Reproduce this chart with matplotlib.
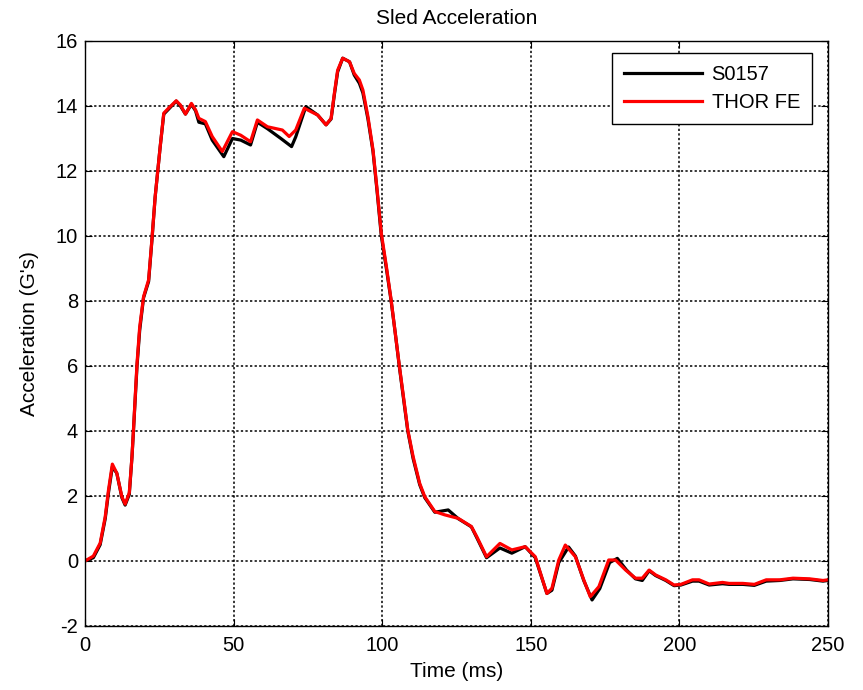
import matplotlib
matplotlib.use("Agg")
import matplotlib.pyplot as plt

plt.rcParams['font.family'] = ['Liberation Sans', 'DejaVu Sans']
plt.rcParams['axes.unicode_minus'] = False

# S0157 test (black)
t_test = [0, 2.8, 5.1, 6.8, 7.9, 9.2, 10.7, 12.4, 13.5, 14.9, 15.8, 16.3, 16.9, 17.5, 18.4,
          19.7, 21.4, 22.5, 23.6, 25.3, 26.5, 28.1, 30.7, 32.1, 33.8, 35.8, 37.2, 38.3, 40.5,
          42.8, 46.7, 49.6, 52.4, 55.7, 58.0, 61.4, 65.9, 69.5, 70.9, 74.3, 78.3, 81.1, 82.8,
          83.9, 85.0, 86.7, 89.0, 90.6, 92.3, 93.5, 95.2, 96.9, 98.3, 99.7, 101.4, 103.0,
          104.4, 105.8, 107.3, 108.6, 110.4, 112.6, 114.3, 117.7, 122.2, 125.6, 130.0, 131.8,
          135.1, 139.6, 143.6, 148.1, 151.5, 155.4, 157.1, 159.4, 162.7, 165.0, 167.8, 170.6,
          173.2, 176.5, 179.1, 182.2, 185.2, 187.5, 189.8, 192.0, 195.4, 198.2, 200.5, 204.4,
          206.6, 210.0, 214.5, 216.7, 221.3, 225.2, 229.2, 233.8, 238.2, 243.8, 248.3, 250]
a_test = [0, 0.1, 0.5, 1.3, 2.1, 2.9, 2.7, 1.95, 1.72, 2.05, 3.2, 4.0, 5.0, 6.0, 7.1,
          8.1, 8.6, 9.85, 11.2, 12.75, 13.75, 13.9, 14.15, 14.0, 13.75, 14.05, 13.85, 13.5, 13.45,
          12.95, 12.44, 13.0, 12.95, 12.8, 13.5, 13.3, 13.0, 12.75, 13.05, 13.98, 13.72, 13.42, 13.6,
          14.35, 15.05, 15.47, 15.36, 14.95, 14.7, 14.4, 13.6, 12.6, 11.35, 10.0, 9.0, 8.0,
          7.0, 5.95, 4.9, 4.0, 3.15, 2.35, 1.95, 1.5, 1.57, 1.3, 1.05, 0.72,
          0.1, 0.4, 0.24, 0.44, 0.1, -1.0, -0.9, -0.05, 0.43, 0.15, -0.6, -1.2,
          -0.85, -0.05, 0.08, -0.28, -0.55, -0.6, -0.3, -0.45, -0.6, -0.76, -0.74, -0.62,
          -0.62, -0.74, -0.7, -0.72, -0.72, -0.75, -0.62, -0.6, -0.55, -0.57, -0.62, -0.6]

# THOR FE model (red)
t_fe = [0, 2.8, 5.1, 6.8, 7.9, 9.2, 10.7, 12.4, 13.5, 14.9, 15.8, 16.3, 16.9, 17.5, 18.4,
        19.7, 21.4, 22.5, 23.6, 25.3, 26.5, 28.1, 30.7, 32.1, 33.8, 35.8, 37.2, 38.3, 40.5,
        42.8, 46.2, 49.6, 52.4, 55.7, 58.0, 61.4, 66.4, 68.7, 70.9, 73.8, 78.3, 81.1, 82.8,
        83.9, 85.0, 86.7, 89.0, 90.6, 92.3, 93.5, 95.2, 96.9, 98.3, 99.7, 101.4, 103.0,
        104.4, 105.8, 107.3, 108.6, 110.4, 112.6, 114.3, 117.7, 121.0, 125.6, 130.0, 131.8,
        135.1, 139.6, 143.6, 148.1, 151.5, 155.4, 157.1, 159.4, 161.6, 165.0, 167.8, 170.0,
        172.9, 176.2, 178.5, 181.9, 185.2, 187.5, 189.8, 192.0, 195.4, 198.2, 200.5, 204.4,
        206.6, 210.0, 214.5, 216.7, 221.3, 225.2, 229.2, 233.8, 238.2, 243.8, 248.3, 250]
a_fe = [0, 0.15, 0.55, 1.36, 2.18, 2.98, 2.7, 1.98, 1.75, 2.1, 3.2, 4.03, 5.06, 6.08, 7.2,
        8.13, 8.65, 9.88, 11.2, 12.75, 13.78, 13.93, 14.16, 14.03, 13.75, 14.08, 13.88, 13.62, 13.52,
        13.06, 12.6, 13.21, 13.1, 12.9, 13.57, 13.36, 13.26, 13.06, 13.26, 13.93, 13.72, 13.42, 13.62,
        14.39, 15.1, 15.47, 15.36, 15.0, 14.8, 14.49, 13.67, 12.65, 11.4, 10.08, 9.06, 8.03,
        7.0, 5.98, 4.95, 4.03, 3.21, 2.39, 1.98, 1.52, 1.42, 1.31, 1.06, 0.75,
        0.13, 0.54, 0.34, 0.44, 0.13, -1.0, -0.84, 0.03, 0.49, 0.13, -0.58, -1.1,
        -0.79, 0.03, 0.03, -0.28, -0.53, -0.53, -0.28, -0.43, -0.58, -0.74, -0.72, -0.58,
        -0.58, -0.71, -0.66, -0.69, -0.69, -0.72, -0.58, -0.58, -0.53, -0.55, -0.6, -0.58]

fs = 14.5

fig = plt.figure(figsize=(8.63, 6.9), dpi=100)
ax = fig.add_axes([0.0985, 0.0928, 0.861, 0.8478])
ax.plot(t_test, a_test, color='black', linewidth=2.3, label='S0157')
ax.plot(t_fe, a_fe, color='red', linewidth=2.3, label='THOR FE')

ax.set_xlim(0, 250)
ax.set_ylim(-2, 16)
ax.set_xticks([0, 50, 100, 150, 200, 250])
ax.set_yticks(range(-2, 17, 2))
ax.grid(True, color='black', linestyle=(0, (1.5, 1.5)), linewidth=1.1)
ax.tick_params(direction='in', top=True, right=True, labelsize=fs, length=5)
ax.tick_params(axis='x', pad=7)
ax.tick_params(axis='y', pad=5)
for s in ax.spines.values():
    s.set_linewidth(1.0)

ax.set_title('Sled Acceleration', fontsize=15, pad=12)
ax.set_xlabel('Time (ms)', fontsize=15, labelpad=5)
ax.set_ylabel("Acceleration (G's)", fontsize=15, labelpad=12)

leg = ax.legend(loc='upper right', bbox_to_anchor=(812 / 863, 1 - 53 / 690),
                bbox_transform=fig.transFigure, borderaxespad=0,
                fontsize=fs, fancybox=False, framealpha=1, edgecolor='black',
                handlelength=3.9, handletextpad=0.45, borderpad=0.6, labelspacing=0.45)
leg.get_frame().set_linewidth(1.0)

fig.savefig('out.png', dpi=100)
